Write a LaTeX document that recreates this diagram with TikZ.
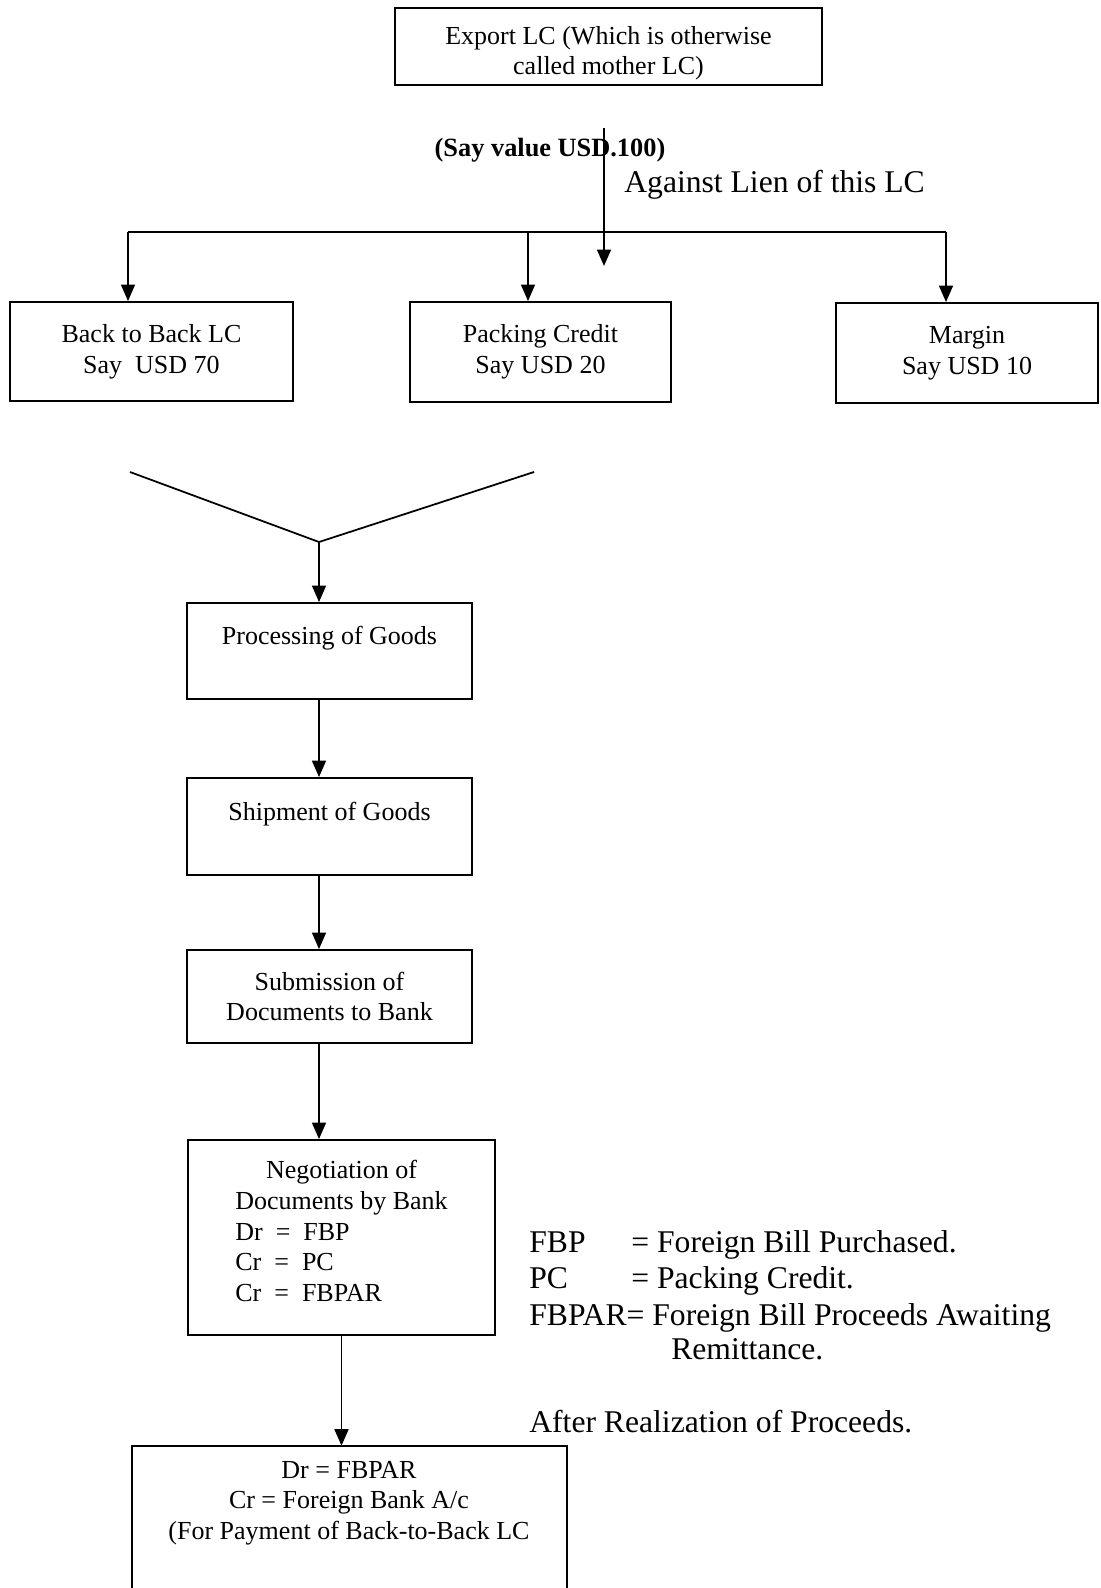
\documentclass[tikz,border=0pt]{standalone}
\usepackage{fontspec}
\setmainfont{Liberation Serif}
\usetikzlibrary{arrows.meta}
\newcommand{\flowfont}{\fontsize{14.8}{17.5}\selectfont}
\newcommand{\notefont}{\fontsize{18}{20.5}\selectfont}

\begin{document}
\begin{tikzpicture}[
    x=0.02cm, y=-0.02cm,
    block/.style={rectangle, draw=black, line width=1.1pt, inner sep=0pt,
      align=center, font=\flowfont},
    arrow/.style={-{Triangle[length=3.3mm, width=2.8mm]}, line width=1pt},
    link/.style={line width=1pt},
    note/.style={anchor=base west, inner sep=0pt, font=\notefont}
  ]
  \useasboundingbox (0,0) rectangle (1100,1588);

  \node[block, minimum width=8.54cm, minimum height=1.54cm] (mother) at (608.5,46.5) {\rule{0pt}{18pt}Export LC (Which is otherwise\\called mother LC)};

  \node[inner sep=0pt, font=\fontsize{15}{18}\selectfont\bfseries] (sayvalue) at (550,150) {(Say value USD.100)};
  \node[note] (lien) at (624,193) {Against Lien of this LC};
  \coordinate (lientop) at (604,128);
  \coordinate (lienend) at (604,266);
  \draw[arrow] (lientop) -- (lienend);

  \node[block, minimum width=5.66cm, minimum height=1.98cm] (b2b) at (151.5,351.5) {Back to Back LC\\Say\ \ USD 70};
  \node[block, minimum width=5.22cm, minimum height=2cm] (packing) at (540.5,352) {Packing Credit\\Say USD 20};
  \node[block, minimum width=5.24cm, minimum height=2cm] (margin) at (967,353) {Margin\\Say USD 10};

  \coordinate (busl) at (128,232);
  \coordinate (busm) at (528,232);
  \coordinate (busr) at (946,232);
  \draw[link] (busl) -- (busr);
  \draw[arrow] (busl) -- (b2b.north -| busl);
  \draw[arrow] (busm) -- (packing.north -| busm);
  \draw[arrow] (busr) -- (margin.north -| busr);

  \coordinate (vleft) at (130,472);
  \coordinate (vtip) at (319,542);
  \coordinate (vright) at (534,472);
  \draw[link] (vleft) -- (vtip) -- (vright);

  \node[block, minimum width=5.7cm, minimum height=1.92cm] (process) at (329.5,651) {Processing of Goods\\\mbox{}};
  \node[block, minimum width=5.7cm, minimum height=1.94cm] (ship) at (329.5,826.5) {Shipment of Goods\\\mbox{}};
  \node[block, minimum width=5.7cm, minimum height=1.86cm] (submit) at (329.5,996.5) {Submission of\\Documents to Bank};
  \node[block, minimum width=6.14cm, minimum height=3.9cm] (nego) at (341.5,1237.5) {%
    \begin{tabular}{@{}l@{}}
      \multicolumn{1}{@{}c@{}}{Negotiation of}\\
      Documents by Bank\\
      Dr~ =~ FBP\\
      Cr~ =~ PC\\
      Cr~ =~ FBPAR\\[4pt]
    \end{tabular}};
  \node[minimum width=8.7cm, minimum height=2.84cm, inner sep=0pt] (settle) at (349.5,1517) {};
  \draw[line width=1.1pt] (settle.south west) -- (settle.north west) -- (settle.north east) -- (settle.south east);
  \node[align=center, inner sep=0pt, font=\flowfont] (settletext) at (349,1503) {Dr = FBPAR\\Cr = Foreign Bank A/c\\(For Payment of Back-to-Back LC};

  \draw[arrow] (vtip) -- (process.north -| vtip);
  \draw[arrow] (process.south -| vtip) -- (ship.north -| vtip);
  \draw[arrow] (ship.south -| vtip) -- (submit.north -| vtip);
  \draw[arrow] (submit.south -| vtip) -- (nego.north -| vtip);
  \draw[arrow] (nego.south) -- (settle.north -| nego.south);

  % abbreviations
  \node[note] (fbp) at (529,1252) {FBP};
  \node[note] (fbpdef) at (631,1252) {= Foreign Bill Purchased.};
  \node[note] (pc) at (529,1288) {PC};
  \node[note] (pcdef) at (631,1288) {= Packing Credit.};
  \node[note] (fbpar) at (529,1325) {FBPAR= Foreign Bill Proceeds Awaiting};
  \node[note] (remit) at (671,1359) {Remittance.};
  \node[note] (after) at (529,1432) {After Realization of Proceeds.};
\end{tikzpicture}
\end{document}
